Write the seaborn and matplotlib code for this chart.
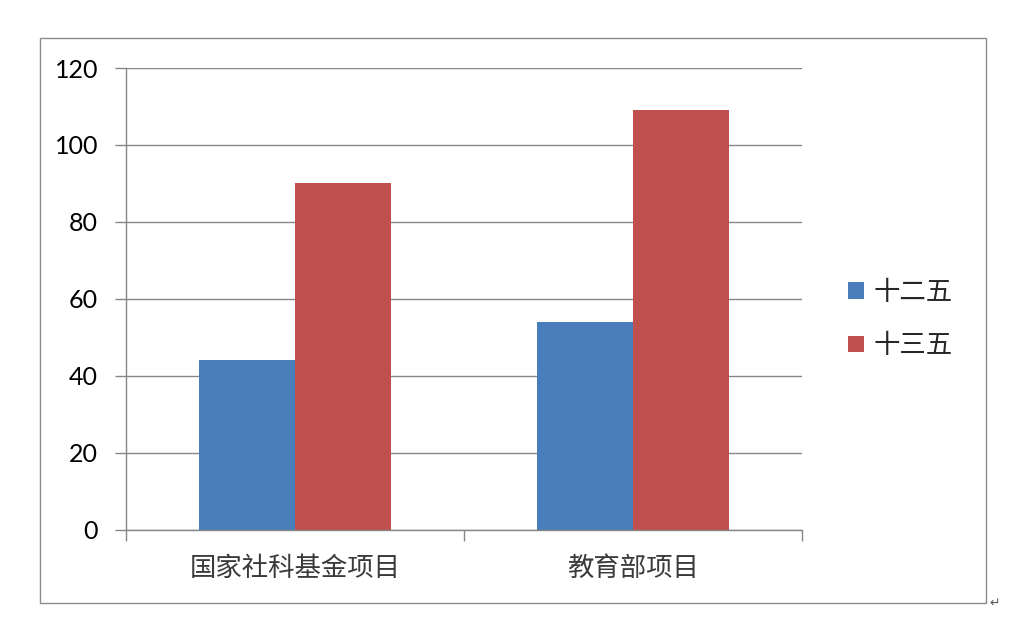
import matplotlib
matplotlib.use("Agg")
import matplotlib.pyplot as plt
from matplotlib.patches import Rectangle
import seaborn as sns
import pandas as pd

categories = ["国家社科基金项目", "教育部项目"]
series = ["十二五", "十三五"]
values_12 = [44, 54]
values_13 = [90, 109]
yticks = [0, 20, 40, 60, 80, 100, 120]
colors = ["#4A7EBB", "#C0504D"]

df = pd.DataFrame({
    "项目": categories * 2,
    "时期": [series[0]] * 2 + [series[1]] * 2,
    "数量": values_12 + values_13,
})

sns.set_theme(style="white")
plt.rcParams['font.family'] = ['Lato', 'Noto Sans CJK SC', 'DejaVu Sans']

fig = plt.figure(figsize=(10.24, 6.38), dpi=100)
ax = fig.add_axes([126 / 1024, 1 - 529.7 / 638, (802 - 126) / 1024, (529.7 - 68) / 638])

sns.barplot(data=df, x="项目", y="数量", hue="时期",
            palette=colors, width=0.57, saturation=1, ax=ax, linewidth=0)

grid_c = "#868686"
ax.set_xlim(-0.5, 1.5)
ax.set_ylim(0, 120)
ax.set_yticks(yticks)
ax.yaxis.grid(True, color=grid_c, lw=1)
ax.set_axisbelow(True)
ax.set_xlabel("")
ax.set_ylabel("")
for s in ["top", "right"]:
    ax.spines[s].set_visible(False)
for s in ["left", "bottom"]:
    ax.spines[s].set_color(grid_c)
    ax.spines[s].set_linewidth(1)

ax.tick_params(axis="y", left=True, length=8, width=1, color=grid_c, pad=12,
               labelsize=18, labelcolor="#000000")
ax.set_xticks([0, 1])
ax.set_xticklabels(categories, fontsize=19, color="#3a3a3a",
                   family=['Noto Sans CJK SC', 'DejaVu Sans'])
ax.tick_params(axis="x", bottom=True, length=0, pad=18)
ax.set_xticks([-0.5, 0.5, 1.5], minor=True)
ax.tick_params(axis="x", which="minor", bottom=True, length=8, width=1, color=grid_c)

handles, labels = ax.get_legend_handles_labels()
ax.legend(handles, labels, loc="center left",
          bbox_to_anchor=(835 / 1024, 1 - 319 / 638), bbox_transform=fig.transFigure,
          frameon=False, borderpad=0, handlelength=0.6, handleheight=0.6,
          handletextpad=0.35, labelspacing=1.0,
          prop={'family': ['Noto Sans CJK SC', 'DejaVu Sans'], 'size': 19})

fig.patches.append(Rectangle((40 / 1024, 1 - 603 / 638), 946 / 1024, 565 / 638,
                             transform=fig.transFigure, fill=False,
                             edgecolor="#8c8c8c", lw=1))
fig.text(995 / 1024, 1 - 603 / 638, "↵", fontsize=9, color="#555555",
         ha="center", va="center", family="DejaVu Sans")

fig.savefig("out.png", dpi=100, facecolor="white")
